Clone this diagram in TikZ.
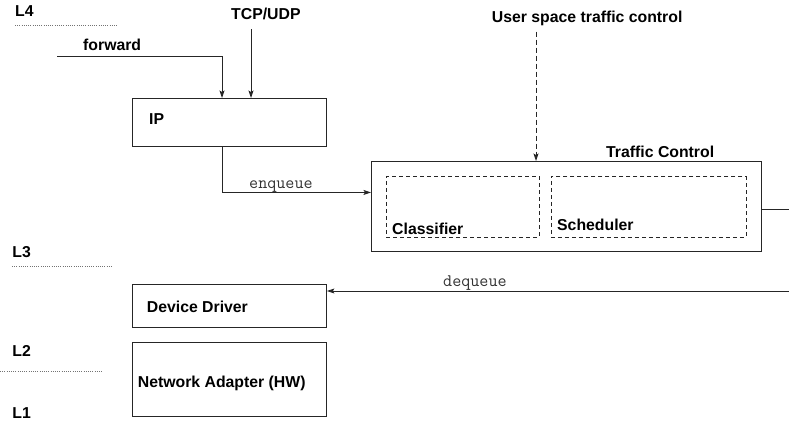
\documentclass[tikz,border=0pt]{standalone}
\usepackage{fontspec}
\setmainfont{Liberation Sans}[Ligatures=NoCommon]
\usetikzlibrary{arrows.meta,calc}

\tikzset{
  ink/.style={draw=black!85, line width=0.9pt},
  blk/.style={ink, rectangle, inner sep=0pt, anchor=north west},
  subblk/.style={blk, dash pattern=on 4pt off 3pt, line width=0.8pt},
  lbl/.style={inner sep=0pt, anchor=base west, font=\fontsize{15.8}{18}\selectfont\bfseries},
  code/.style={inner sep=0pt, anchor=base west, text=black!80, font=\fontsize{17.6}{20}\selectfont\ttfamily},
  flow/.style={ink, -{Stealth[length=7.5pt,width=5pt,inset=1.5pt]}},
  ctrl/.style={flow, dash pattern=on 5pt off 3pt},
  layer/.style={draw=black!55, line width=0.6pt, dash pattern=on 0.8pt off 1.4pt}
}

\begin{document}
\begin{tikzpicture}[x=1pt,y=-1pt]
\useasboundingbox (0,0) rectangle (789,421);

% layer markers
\node[lbl] (l4) at (15,16.7) {L4};
\node[lbl] (l3) at (12.3,257.7) {L3};
\node[lbl] (l2) at (12.3,356.7) {L2};
\node[lbl] (l1) at (12.3,418.3) {L1};
\draw[layer] (15,25) -- (117,25);
\draw[layer] (12,266) -- (113,266);
\draw[layer] (0,371.7) -- (101.7,371.7);

% blocks
\node[blk, minimum width=194.5pt, minimum height=48pt] (ip) at (131.5,98) {};
\node[blk, minimum width=390pt, minimum height=90pt] (tc) at (371,161) {};
\node[subblk, minimum width=153pt, minimum height=60.5pt] (cls) at (386,176) {};
\node[subblk, minimum width=195pt, minimum height=60.5pt] (sch) at (550.5,176) {};
\node[blk, minimum width=194.5pt, minimum height=42.4pt] (dd) at (131.5,284.3) {};
\node[blk, minimum width=194.5pt, minimum height=74.6pt] (na) at (131.5,341.7) {};

% block texts
\node[lbl] (iptxt) at (149,124) {IP};
\node[lbl] (tctxt) at (606,157.3) {Traffic Control};
\node[lbl] (clstxt) at (392,234) {Classifier};
\node[lbl] (schtxt) at (557,230.7) {Scheduler};
\node[lbl] (ddtxt) at (146.7,312.3) {Device Driver};
\node[lbl] (natxt) at (137.7,387.7) {Network Adapter (HW)};

% sources
\node[lbl] (fwd) at (83,50) {forward};
\node[lbl] (tcp) at (231,19) {TCP/UDP};
\node[lbl] (usr) at (491.7,22.7) {User space traffic control};

% attachment points
\coordinate (fwdstart) at (57,56);
\coordinate (ipin1) at ([xshift=90.5pt]ip.north west);
\coordinate (ipin2) at ([xshift=119.5pt]ip.north west);
\coordinate (ipout) at ([xshift=90.5pt]ip.south west);
\coordinate (tcin) at ([xshift=165pt]tc.north west);
\coordinate (tcout) at (789,209.3);
\coordinate (deqstart) at (789,291);

% connectors
\draw[flow] (fwdstart) -| (ipin1);
\draw[flow, shorten <=9.5pt] (tcp.south -| ipin2) -- (ipin2);
\draw[ctrl, shorten <=5.5pt] (usr.south -| tcin) -- (tcin);
\draw[flow] (ipout) |- ([yshift=14pt]tc.west);
\draw[ink] (tc.east |- tcout) -- (tcout);
\draw[flow] (deqstart) -- (deqstart -| dd.east);

% connector labels
\node[code] (enq) at (249,188) {enqueue};
\node[code] (deq) at (443,286) {dequeue};
\end{tikzpicture}
\end{document}
